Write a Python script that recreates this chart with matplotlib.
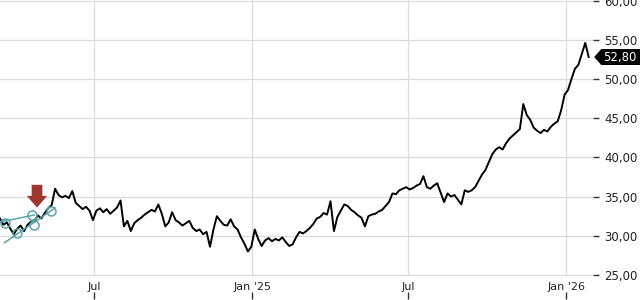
import numpy as np
import pandas as pd
import matplotlib
matplotlib.use('Agg')
import matplotlib.pyplot as plt
import matplotlib.dates as mdates
from matplotlib.patches import Polygon
from matplotlib.transforms import blended_transform_factory
from matplotlib.ticker import FuncFormatter

# price, one value every 4 calendar days from 2024-03-14
closes = [
    32.2, 31.4, 31.7, 30.9, 30.2, 30.9, 31.3, 30.6, 31.4, 31.8,
    31.9, 32.6, 32.2, 32.9, 33.5, 33.9, 36.0, 35.2, 34.9, 35.1,
    34.8, 35.7, 34.2, 33.8, 33.4, 33.7, 33.2, 32.0, 33.2, 33.5,
    33.0, 33.4, 32.8, 33.2, 33.6, 34.5, 31.2, 31.9, 30.6, 31.6,
    32.0, 32.3, 32.7, 33.0, 33.3, 33.1, 34.0, 32.8, 31.2, 31.7,
    33.0, 32.0, 31.7, 31.3, 31.6, 31.9, 31.0, 30.6, 30.8, 30.2,
    30.5, 28.6, 30.8, 32.5, 31.9, 31.4, 31.3, 32.1, 31.2, 30.8,
    29.8, 29.0, 28.0, 28.6, 30.8, 29.6, 28.7, 29.4, 29.7, 29.3,
    29.6, 29.4, 29.8, 29.2, 28.7, 28.9, 29.8, 30.5, 30.3, 30.6,
    31.0, 31.5, 32.2, 32.4, 32.9, 32.7, 34.4, 30.6, 32.4, 33.2,
    34.0, 33.8, 33.3, 33.0, 32.6, 32.3, 31.2, 32.5, 32.7, 32.8,
    33.1, 33.3, 33.8, 34.3, 35.4, 35.3, 35.8, 36.0, 36.2, 35.9,
    36.1, 36.4, 36.6, 37.6, 36.2, 36.0, 36.4, 36.7, 35.5, 34.3,
    35.4, 35.0, 35.2, 34.6, 34.0, 35.8, 35.6, 35.8, 36.2, 37.0,
    37.8, 38.4, 39.4, 40.4, 41.0, 41.3, 41.0, 41.8, 42.4, 42.8,
    43.2, 43.6, 46.8, 45.4, 44.8, 43.8, 43.4, 43.1, 43.5, 43.3,
    43.9, 44.3, 44.6, 46.0, 48.0, 48.6, 50.0, 51.3, 51.8, 53.2,
    54.6, 52.8,
]
start_date = '2024-03-14'
last_label = '52,80'

# drawings on the chart
trend_low_dates = ['2024-03-19', '2024-05-17']
trend_low_vals = [29.1, 33.55]
trend_high_dates = ['2024-03-14', '2024-04-23']
trend_high_vals = [31.76, 32.65]
circle_dates = ['2024-03-20', '2024-04-03', '2024-04-20', '2024-04-22', '2024-05-12']
circle_vals = [31.6, 30.4, 32.65, 31.4, 33.2]
arrow_date = '2024-04-26'
arrow_from, arrow_to = 36.5, 33.6

xtick_dates = ['2024-07-01', '2025-01-01', '2025-07-01', '2026-01-01']
xtick_labels = ['Jul', "Jan '25", 'Jul', "Jan '26"]
yticks = [25, 30, 35, 40, 45, 50, 55, 60]

dates = pd.date_range(start_date, periods=len(closes), freq='4D')

fig = plt.figure(figsize=(6.4, 3.0), dpi=100)
ax = fig.add_axes([0.0, 0.08, 593 / 640, 0.92])

ax.plot(dates, closes, color='black', lw=1.4, zorder=3)

teal = '#5aa3ab'
ax.plot(pd.to_datetime(trend_low_dates), trend_low_vals, color=teal, lw=1.1, zorder=4)
ax.plot(pd.to_datetime(trend_high_dates), trend_high_vals, color=teal, lw=1.1, zorder=4)
ax.plot(pd.to_datetime(circle_dates), circle_vals, 'o', ms=6.5, mfc='none',
        mec=teal, mew=1.1, zorder=4)

ad = pd.Timestamp(arrow_date)
ax.annotate('', xy=(ad, arrow_to), xytext=(ad, arrow_from),
            arrowprops=dict(arrowstyle='simple,head_length=0.6,head_width=1.05,tail_width=0.55',
                            color='#a0372f', lw=0, shrinkA=0, shrinkB=0,
                            mutation_scale=14), zorder=5)

ax.set_xlim(pd.Timestamp('2024-03-14'), pd.Timestamp('2026-02-01'))
ax.set_ylim(24.87, 60.07)

for s in ax.spines.values():
    s.set_visible(False)

ax.set_xticks(pd.to_datetime(xtick_dates))
ax.set_xticklabels(xtick_labels)
ax.tick_params(axis='x', length=0, pad=4, labelsize=8, labelcolor='#222222')

ax.yaxis.tick_right()
ax.set_yticks(yticks)
ax.yaxis.set_major_formatter(FuncFormatter(lambda v, p: f'{v:.2f}'.replace('.', ',')))
ax.tick_params(axis='y', length=4, width=1, color='#333333', pad=4,
               labelsize=8.5, labelcolor='#222222')

ax.grid(True, color='#dcdcdc', lw=0.9)
ax.set_axisbelow(True)

# small tick marks under the date labels
sec = ax.secondary_xaxis(-0.083)
sec.set_xticks(pd.to_datetime(xtick_dates))
sec.set_xticklabels([])
sec.tick_params(axis='x', direction='in', length=5, width=1, color='#333333')
for s in sec.spines.values():
    s.set_visible(False)

# last price tag
tr = blended_transform_factory(ax.transAxes, ax.transData)
last = closes[-1]
h = 1.02
tag = Polygon([(1.002, last), (1.014, last + h), (1.08, last + h),
               (1.08, last - h), (1.014, last - h)],
              closed=True, transform=tr, facecolor='black', edgecolor='none',
              clip_on=False, zorder=6)
ax.add_patch(tag)
ax.text(1.0165, last, last_label, transform=tr, color='white', fontsize=8.5,
        va='center', ha='left', zorder=7, clip_on=False)

fig.savefig('out.png', dpi=100)
